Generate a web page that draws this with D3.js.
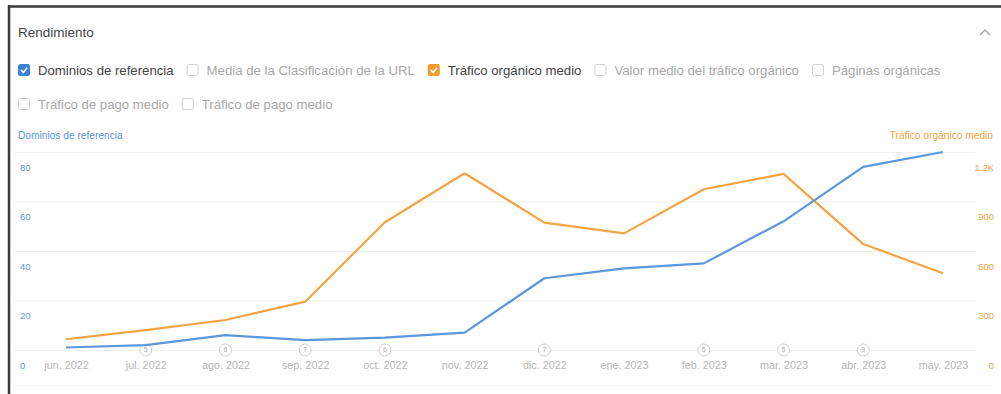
<!DOCTYPE html>
<html>
<head>
<meta charset="utf-8">
<script src="https://cdn.jsdelivr.net/npm/d3@7/dist/d3.min.js"></script>
<style>
  html, body { margin: 0; padding: 0; background: #fff; }
  svg { display: block; font-family: "Liberation Sans", Arial, sans-serif; }
</style>
</head>
<body>
<svg id="chart" width="1001" height="394"></svg>
<script>
// ---- data ----
const months = ["jun. 2022","jul. 2022","ago. 2022","sep. 2022","oct. 2022","nov. 2022",
                "dic. 2022","ene. 2023","feb. 2023","mar. 2023","abr. 2023","may. 2023"];
const referringDomains = [1, 2, 6, 4, 5, 7, 29, 33, 35, 52, 74, 80];
const organicTraffic = [65, 121, 182, 293, 774, 1071, 772, 707, 974, 1067, 642, 465];
const leftTicks = [0, 20, 40, 60, 80];
const rightTicks = [0, 300, 600, 900, 1200];
const rightTickLabels = ["0", "300", "600", "900", "1.2K"];
const markerMonths = ["jul. 2022","ago. 2022","sep. 2022","oct. 2022","dic. 2022","feb. 2023","mar. 2023","abr. 2023"];
const markerLabels = ["5","6","7","6","7","5","5","9"];
const legendRow1 = [
  {label: "Dominios de referencia", checked: true, color: "#3b82d6"},
  {label: "Media de la Clasificación de la URL", checked: false},
  {label: "Tráfico orgánico medio", checked: true, color: "#f39a2b"},
  {label: "Valor medio del tráfico orgánico", checked: false},
  {label: "Páginas orgánicas", checked: false}
];
const legendRow2 = [
  {label: "Tráfico de pago medio", checked: false},
  {label: "Tráfico de pago medio", checked: false}
];

const BLUE = "#5b97dc", ORANGE = "#f3a444";
const svg = d3.select("#chart");

// frame
svg.append("rect").attr("x", 0).attr("y", 0).attr("width", 1001).attr("height", 394).attr("fill", "#fff");
svg.append("line").attr("x1", 8).attr("x2", 1001).attr("y1", 6.5).attr("y2", 6.5).attr("stroke", "#3a3a3a").attr("stroke-width", 2.5);
svg.append("line").attr("x1", 9).attr("x2", 9).attr("y1", 5).attr("y2", 394).attr("stroke", "#3a3a3a").attr("stroke-width", 2.5);

// header
svg.append("text").attr("x", 18).attr("y", 37).attr("font-size", 13.5).attr("fill", "#444").text("Rendimiento");
svg.append("path").attr("d", "M980,35 L985,30 L990,35").attr("fill", "none").attr("stroke", "#aaa").attr("stroke-width", 1.5);

// legend
function legendRow(items, y, startX) {
  let x = startX;
  items.forEach(it => {
    const g = svg.append("g").attr("transform", `translate(${x},${y})`);
    if (it.checked) {
      g.append("rect").attr("x", 0).attr("y", -6).attr("width", 12).attr("height", 12).attr("rx", 2.5).attr("fill", it.color);
      g.append("path").attr("d", "M3,0 L5.3,2.5 L9.2,-2.3").attr("fill", "none").attr("stroke", "#fff").attr("stroke-width", 1.7);
    } else {
      g.append("rect").attr("x", 0.5).attr("y", -5.5).attr("width", 11).attr("height", 11).attr("rx", 2).attr("fill", "#fff").attr("stroke", "#d0d0d0");
    }
    const t = g.append("text").attr("x", 20).attr("y", 4.5).attr("font-size", 13.2)
      .attr("fill", it.checked ? "#444" : "#a8a8a8").text(it.label);
    const w = t.node().getComputedTextLength();
    x += 20 + w + 13;
  });
}
legendRow(legendRow1, 70, 18);
legendRow(legendRow2, 104, 18);

// scales
const x = d3.scalePoint().domain(months).range([66, 943]);
const yL = d3.scaleLinear().domain([0, 80]).range([350, 152]);
const yR = d3.scaleLinear().domain([0, 1200]).range([350, 152]);

// axis titles
svg.append("text").attr("x", 18).attr("y", 139).attr("font-size", 10.2).attr("fill", BLUE).text("Dominios de referencia");
svg.append("text").attr("x", 993).attr("y", 139).attr("font-size", 10.2).attr("fill", ORANGE).attr("text-anchor", "end").text("Tráfico orgánico medio");

// gridlines + left axis
const leftAxis = svg.append("g").attr("transform", "translate(15,0)")
  .call(d3.axisLeft(yL).tickValues(leftTicks).tickSize(-960).tickFormat(d3.format("d")));
leftAxis.select(".domain").remove();
leftAxis.selectAll(".tick line").attr("stroke", "#f0f0f0");
leftAxis.selectAll(".tick text").attr("x", 5).attr("dy", 18).attr("text-anchor", "start")
  .attr("font-size", 9.5).attr("fill", BLUE).attr("font-family", "Liberation Sans, Arial, sans-serif");

const rightAxis = svg.append("g").attr("transform", "translate(994,0)")
  .call(d3.axisRight(yR).tickValues(rightTicks).tickSize(0).tickFormat((d, i) => rightTickLabels[i]));
rightAxis.select(".domain").remove();
rightAxis.selectAll(".tick text").attr("x", 0).attr("dy", 18).attr("text-anchor", "end")
  .attr("font-size", 9.5).attr("fill", ORANGE).attr("font-family", "Liberation Sans, Arial, sans-serif");

// bottom boundary
svg.append("line").attr("x1", 15).attr("x2", 993).attr("y1", 385.5).attr("y2", 385.5).attr("stroke", "#f3f3f3");

// x axis labels
const xAxis = svg.append("g").attr("transform", "translate(0,361)")
  .call(d3.axisBottom(x).tickSize(0));
xAxis.select(".domain").remove();
xAxis.selectAll(".tick text").attr("font-size", 10.8).attr("fill", "#b5b5b5")
  .attr("font-family", "Liberation Sans, Arial, sans-serif").attr("y", 0).attr("dy", "0.71em");

// markers
const mk = svg.append("g").selectAll("g").data(markerMonths).join("g")
  .attr("transform", d => `translate(${x(d)},${yL(0)})`);
mk.append("circle").attr("r", 6).attr("fill", "#fff").attr("stroke", "#cfcfcf");
mk.append("text").attr("text-anchor", "middle").attr("dy", "0.35em").attr("font-size", 7).attr("fill", "#aaa")
  .text((d, i) => markerLabels[i]);

// lines
const lineL = d3.line().x((d, i) => x(months[i])).y(d => yL(d));
const lineR = d3.line().x((d, i) => x(months[i])).y(d => yR(d));
svg.append("path").datum(organicTraffic).attr("d", lineR).attr("fill", "none").attr("stroke", ORANGE).attr("stroke-width", 2.2).attr("stroke-linejoin", "round");
svg.append("path").datum(referringDomains).attr("d", lineL).attr("fill", "none").attr("stroke", BLUE).attr("stroke-width", 2.2).attr("stroke-linejoin", "round");
</script>
</body>
</html>
